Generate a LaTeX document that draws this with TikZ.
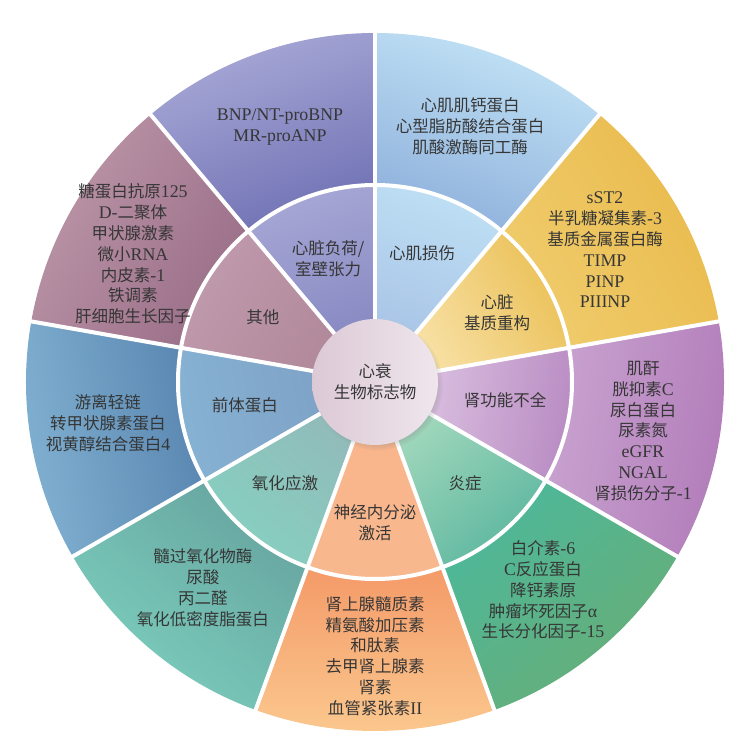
\documentclass[tikz,border=0pt]{standalone}
\usepackage{fontspec}
\setmainfont{Noto Sans CJK SC}
\newfontfamily\lat[Scale=1.08]{Liberation Serif}
\usetikzlibrary{shadows}
\definecolor{ink}{HTML}{363636}
% inner ring (outer edge / inner edge) and outer ring (outer edge / inner edge)
\definecolor{loadIo}{HTML}{A6A7D5}\definecolor{loadIi}{HTML}{8384BF}
\definecolor{loadOo}{HTML}{A9AAD7}\definecolor{loadOi}{HTML}{7071B4}
\definecolor{injIo}{HTML}{BEDFF4}\definecolor{injIi}{HTML}{A6C0E4}
\definecolor{injOo}{HTML}{C3E4F6}\definecolor{injOi}{HTML}{8FB1DC}
\definecolor{matIo}{HTML}{EBC158}\definecolor{matIi}{HTML}{FAE6B2}
\definecolor{matOo}{HTML}{E9BA4C}\definecolor{matOi}{HTML}{F0CC6C}
\definecolor{renIo}{HTML}{B98CC3}\definecolor{renIi}{HTML}{E2CCE7}
\definecolor{renOo}{HTML}{B17BB9}\definecolor{renOi}{HTML}{C9A3D0}
\definecolor{infIo}{HTML}{5DB79F}\definecolor{infIi}{HTML}{AADCC0}
\definecolor{infOo}{HTML}{68AD76}\definecolor{infOi}{HTML}{4DB89A}
\definecolor{neuIo}{HTML}{F8B88E}\definecolor{neuIi}{HTML}{FAB48A}
\definecolor{neuOo}{HTML}{FBC98F}\definecolor{neuOi}{HTML}{F49A68}
\definecolor{oxiIo}{HTML}{86D0C0}\definecolor{oxiIi}{HTML}{93B8B9}
\definecolor{oxiOo}{HTML}{7CCFBE}\definecolor{oxiOi}{HTML}{67A5A0}
\definecolor{preIo}{HTML}{86B2D3}\definecolor{preIi}{HTML}{7C9EC4}
\definecolor{preOo}{HTML}{82B2D2}\definecolor{preOi}{HTML}{5885B0}
\definecolor{othIo}{HTML}{C09AAD}\definecolor{othIi}{HTML}{AE8697}
\definecolor{othOo}{HTML}{BD97A9}\definecolor{othOi}{HTML}{9A6E88}
\definecolor{hubL}{HTML}{DCC9D6}\definecolor{hubR}{HTML}{EFE6EC}
\newcommand{\wheelsector}[6]{%
  \pgfmathsetmacro\secang{(#1+#2)/2-90}%
  \shade[top color=#3,bottom color=#4,shading angle=\secang]
    (0,0) -- (#1:197) arc[start angle=#1,end angle=#2,radius=197] -- cycle;
  \shade[top color=#5,bottom color=#6,shading angle=\secang]
    (#1:197) arc[start angle=#1,end angle=#2,radius=197] -- (#2:349)
    arc[start angle=#2,end angle=#1,radius=349] -- cycle;
}
\tikzset{
  lbl/.style={align=center,text=ink,font=\fontsize{16.5}{20.8}\selectfont,inner sep=0pt},
  sep/.style={white,line width=4pt}
}
\begin{document}
\begin{tikzpicture}[x=1pt,y=1pt]
\fill[white] (-375,-353) rectangle (355,382);
\useasboundingbox (-375,-353) rectangle (355,382);
\wheelsector{90}{130}{loadIo}{loadIi}{loadOo}{loadOi}
\wheelsector{130}{170}{othIo}{othIi}{othOo}{othOi}
\wheelsector{170}{210}{preIo}{preIi}{preOo}{preOi}
\wheelsector{210}{250}{oxiIo}{oxiIi}{oxiOo}{oxiOi}
\wheelsector{250}{290}{neuIo}{neuIi}{neuOo}{neuOi}
\wheelsector{290}{330}{infIo}{infIi}{infOo}{infOi}
\wheelsector{330}{370}{renIo}{renIi}{renOo}{renOi}
\wheelsector{10}{50}{matIo}{matIi}{matOo}{matOi}
\wheelsector{50}{90}{injIo}{injIi}{injOo}{injOi}
\foreach \a in {10,50,90,130,170,210,250,290,330}
  \draw[sep] (0,0) -- (\a:352);
\draw[sep] (0,0) circle[radius=197];
\node[circle,minimum size=126pt,inner sep=0pt,left color=hubL,right color=hubR,
  circular drop shadow={shadow xshift=2.5pt,shadow yshift=-3pt,opacity=0.4,shadow scale=1.04},
  lbl] (hub) at (0,0) {心衰\\生物标志物};
% outer ring labels
\node[lbl] (o-load) at (-95,255) {{\lat BNP/NT-proBNP}\\{\lat MR-proANP}};
\node[lbl] (o-injury) at (95,256) {心肌肌钙蛋白\\心型脂肪酸结合蛋白\\肌酸激酶同工酶};
\node[lbl] (o-matrix) at (230,132) {{\lat sST2}\\半乳糖凝集素{\lat -3}\\基质金属蛋白酶\\{\lat TIMP}\\{\lat PINP}\\{\lat PIIINP}};
\node[lbl] (o-renal) at (268,-49) {肌酐\\胱抑素{\lat C}\\尿白蛋白\\尿素氮\\{\lat eGFR}\\{\lat NGAL}\\肾损伤分子{\lat -1}};
\node[lbl] (o-inflam) at (168,-208) {白介素{\lat -6}\\{\lat C}反应蛋白\\降钙素原\\肿瘤坏死因子{\lat α}\\生长分化因子{\lat -15}};
\node[lbl] (o-neuro) at (0,-274) {肾上腺髓质素\\精氨酸加压素\\和肽素\\去甲肾上腺素\\肾素\\血管紧张素{\lat II}};
\node[lbl] (o-oxid) at (-172,-206) {髓过氧化物酶\\尿酸\\丙二醛\\氧化低密度脂蛋白};
\node[lbl] (o-prec) at (-267,-41) {游离轻链\\转甲状腺素蛋白\\视黄醇结合蛋白{\lat 4}};
\node[lbl] (o-other) at (-242,128) {糖蛋白抗原{\lat 125}\\{\lat D-}二聚体\\甲状腺激素\\微小{\lat RNA}\\内皮素{\lat -1}\\铁调素\\肝细胞生长因子};
% inner ring labels
\node[lbl] (i-load) at (-47,123) {心脏负荷/\\室壁张力};
\node[lbl] (i-injury) at (47,129) {心肌损伤};
\node[lbl] (i-matrix) at (122,69) {心脏\\基质重构};
\node[lbl] (i-renal) at (130,-18) {肾功能不全};
\node[lbl] (i-inflam) at (90,-101) {炎症};
\node[lbl] (i-neuro) at (0,-141) {神经内分泌\\激活};
\node[lbl] (i-oxid) at (-90,-101) {氧化应激};
\node[lbl] (i-prec) at (-130,-23) {前体蛋白};
\node[lbl] (i-other) at (-112,65) {其他};
\end{tikzpicture}
\end{document}
